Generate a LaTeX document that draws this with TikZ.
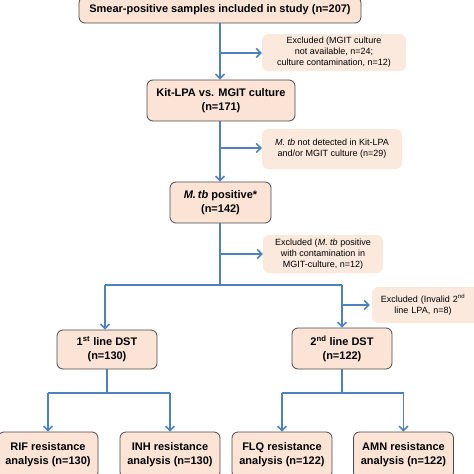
\documentclass[tikz,border=0pt]{standalone}
\usepackage{fontspec}
\setmainfont{Liberation Sans}
\usetikzlibrary{arrows.meta}
\definecolor{peach}{HTML}{FBE4D5}
\definecolor{peachlt}{HTML}{FCE9DD}
\definecolor{flow}{HTML}{4F81BD}
\definecolor{edge}{HTML}{4A4A4A}
\tikzset{
  mainbox/.style={draw=edge, line width=0.8pt, fill=peach, rounded corners=6pt, align=center,
    font=\fontsize{11}{14}\selectfont\bfseries, inner sep=0pt},
  exbox/.style={fill=peachlt, rounded corners=6pt, align=center,
    font=\fontsize{9}{11}\selectfont, inner sep=0pt},
  flowline/.style={draw=flow, line width=1.6pt},
  flowarrow/.style={flowline, -{Straight Barb[length=4.5pt,width=9pt,line width=1.5pt]}},
}
\begin{document}
\begin{tikzpicture}[x=1pt,y=-1pt]
\useasboundingbox (0,0) rectangle (474,474);
% main boxes
\node[mainbox, minimum width=282pt, minimum height=26pt] (b1) at (220,10) {Smear-positive samples included in study (n=207)};
\node[mainbox, minimum width=148pt, minimum height=41pt] (b2) at (221,100.5) {Kit-LPA vs. MGIT culture\\(n=171)};
\node[mainbox, minimum width=101pt, minimum height=41pt] (b3) at (220.5,202.5) {\textit{M.\,tb} positive*\\(n=142)};
\node[mainbox, minimum width=100pt, minimum height=39pt] (b4) at (107,349.5) {1\textsuperscript{st} line DST\\(n=130)};
\node[mainbox, minimum width=100pt, minimum height=41pt] (b5) at (342,348.5) {2\textsuperscript{nd} line DST\\(n=122)};
\node[mainbox, minimum width=100pt, minimum height=46pt] (b6) at (48,455) {RIF resistance\\analysis (n=130)};
\node[mainbox, minimum width=100pt, minimum height=46pt] (b7) at (170,455) {INH resistance\\analysis (n=130)};
\node[mainbox, minimum width=100pt, minimum height=46pt] (b8) at (282,455) {FLQ resistance\\analysis (n=122)};
\node[mainbox, minimum width=100pt, minimum height=46pt] (b9) at (403.5,455) {AMN resistance\\analysis (n=122)};
% excluded boxes
\node[exbox, minimum width=144pt, minimum height=37pt] (e1) at (334,52.5) {Excluded (MGIT culture\\not available, n=24;\\culture contamination, n=12)};
\node[exbox, minimum width=140pt, minimum height=40pt] (e2) at (332,149) {\textit{M. tb} not detected in Kit-LPA\\and/or MGIT culture (n=29)};
\node[exbox, minimum width=120pt, minimum height=38pt] (e3) at (323,254) {Excluded (\textit{M. tb} positive\\with contamination in\\MGIT-culture, n=12)};
\node[exbox, minimum width=108pt, minimum height=36pt, text width=100pt] (e4) at (426,305) {\hspace*{-6pt}Excluded (Invalid 2\textsuperscript{nd}\\\hspace*{-6pt}line LPA, n=8)};
% junction coordinates
\coordinate (j1) at (220,53);
\coordinate (j2) at (220,148);
\coordinate (j3) at (220,254);
\coordinate (j4) at (220,285);
\coordinate (hl) at (105,285);
\coordinate (hr) at (342,285);
\coordinate (j5) at (342,305);
\coordinate (k1) at (107,393);
\coordinate (k1l) at (48,393);
\coordinate (k1r) at (170,393);
\coordinate (k2) at (342,393);
\coordinate (k2l) at (282,393);
\coordinate (k2r) at (403.5,393);
% connectors
\draw[flowarrow] (b1.south -| j1) -- (b2.north -| j1);
\draw[flowarrow] (j1) -- (e1.west |- j1);
\draw[flowarrow] (b2.south -| j2) -- (b3.north -| j2);
\draw[flowarrow] (j2) -- (e2.west |- j2);
\draw[flowline] (b3.south -| j3) -- (j4);
\draw[flowarrow] (j3) -- (e3.west |- j3);
\draw[flowline] (hl) -- (hr);
\draw[flowarrow] (hl) -- (b4.north -| hl);
\draw[flowarrow] (hr) -- (b5.north -| hr);
\draw[flowarrow] (j5) -- ([xshift=-2pt]e4.west |- j5);
\draw[flowline] (b4.south -| k1) -- (k1);
\draw[flowline] (k1l) -- (k1r);
\draw[flowarrow] (k1l) -- (b6.north -| k1l);
\draw[flowarrow] (k1r) -- (b7.north -| k1r);
\draw[flowline] (b5.south -| k2) -- (k2);
\draw[flowline] (k2l) -- (k2r);
\draw[flowarrow] (k2l) -- (b8.north -| k2l);
\draw[flowarrow] (k2r) -- (b9.north -| k2r);
\end{tikzpicture}
\end{document}
